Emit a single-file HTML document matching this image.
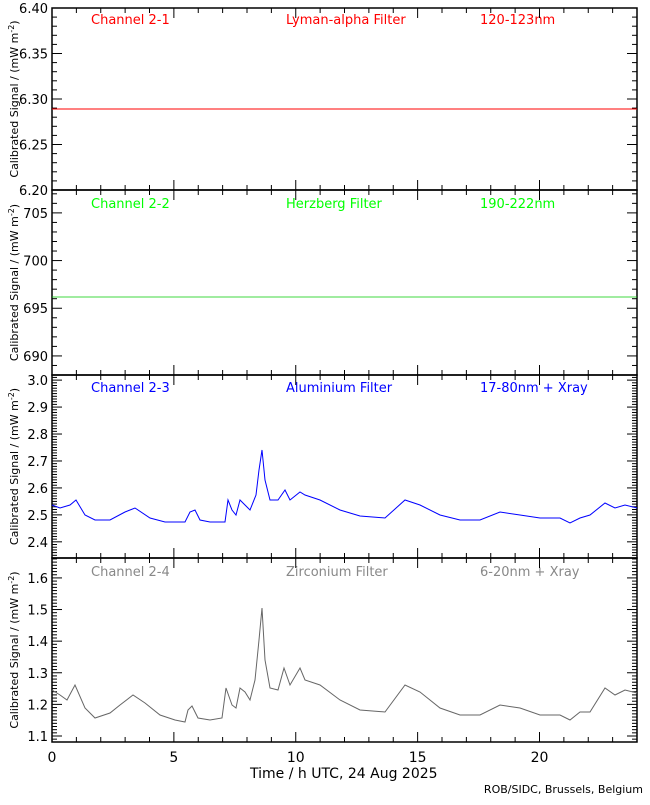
<!DOCTYPE html>
<html><head><meta charset="utf-8"><style>
body{margin:0;background:#fff}
svg text{font-family:"DejaVu Sans","Liberation Sans",sans-serif;font-size:13px}
</style></head><body>
<svg id="s" width="650" height="800" xmlns="http://www.w3.org/2000/svg">
<text x="91" y="24" fill="#f00">Channel 2-1</text><text x="286" y="24" fill="#f00">Lyman-alpha Filter</text><text x="480" y="24" fill="#f00">120-123nm</text>
<text x="91" y="208" fill="#0f0">Channel 2-2</text><text x="286" y="208" fill="#0f0">Herzberg Filter</text><text x="480" y="208" fill="#0f0">190-222nm</text>
<text x="91" y="392" fill="#00f">Channel 2-3</text><text x="286" y="392" fill="#00f">Aluminium Filter</text><text x="480" y="392" fill="#00f">17-80nm + Xray</text>
<text x="91" y="576" fill="#888">Channel 2-4</text><text x="286" y="576" fill="#888">Zirconium Filter</text><text x="480" y="576" fill="#888">6-20nm + Xray</text>
<text x="250" y="778" style="font-size:14px">Time / h UTC, 24 Aug 2025</text>
<text x="643" y="793" text-anchor="end" style="font-size:11px">ROB/SIDC, Brussels, Belgium</text>
</svg>
<script>
var s=document.getElementById('s'),NS='http://www.w3.org/2000/svg';
function el(t,a,txt){var e=document.createElementNS(NS,t);for(var k in a)e.setAttribute(k,a[k]);if(txt)e.textContent=txt;s.appendChild(e);return e;}
var L=52,R=637;
var panels=[
 {t:8,b:190,v0:6.40,v1:6.20,maj:0.05,min:0.01,dec:2,lo:6.20,hi:6.40},
 {t:190,b:375,v0:707.4,v1:688,maj:5,min:1,dec:0,lo:690,hi:705},
 {t:375,b:558,v0:3.019,v1:2.34,maj:0.1,min:0.01,dec:1,lo:2.4,hi:3.0},
 {t:558,b:742,v0:1.663,v1:1.081,maj:0.1,min:0.01,dec:1,lo:1.1,hi:1.6}
];
panels.forEach(function(p,i){
 el('rect',{x:L,y:p.t,width:R-L,height:p.b-p.t,fill:'none',stroke:'#000','stroke-width':1.5});
 var Y=function(v){return p.t+(p.v0-v)/(p.v0-p.v1)*(p.b-p.t);};
 var st=Math.ceil(p.v1/p.min-1e-6);
 for(var k=st;k*p.min<=p.v0+1e-9;k++){var v=k*p.min,y=Y(v);
  var isM=Math.abs(v/p.maj-Math.round(v/p.maj))<1e-6;var len=isM?10:5;
  el('line',{x1:L,x2:L+len,y1:y,y2:y,stroke:'#000'});el('line',{x1:R-len,x2:R,y1:y,y2:y,stroke:'#000'});
  if(isM&&v>=p.lo-1e-9&&v<=p.hi+1e-9)el('text',{x:L-4,y:y+5,'text-anchor':'end'},v.toFixed(p.dec));}
 for(var h=0;h<=24;h++){var x=L+h*(R-L)/24,len=h%5==0?10:5;
  el('line',{x1:x,x2:x,y1:p.b,y2:p.b-len,stroke:'#000'});el('line',{x1:x,x2:x,y1:p.t,y2:p.t+len,stroke:'#000'});}
 var cy=(p.t+p.b)/2;
 var tx=el('text',{x:0,y:0,transform:'translate(18,'+cy+') rotate(-90)','text-anchor':'middle',style:'font-size:11px'},'Calibrated Signal / (mW m');
 var ts=document.createElementNS(NS,'tspan');ts.setAttribute('dy','-4');ts.setAttribute('style','font-size:8px');ts.textContent='-2';tx.appendChild(ts);
 var ts2=document.createElementNS(NS,'tspan');ts2.setAttribute('dy','4');ts2.textContent=')';tx.appendChild(ts2);
});
for(var h=0;h<=20;h+=5)el('text',{x:L+h*(R-L)/24,y:762,'text-anchor':'middle',style:'font-size:14px'},''+h);
el('line',{x1:L,x2:R,y1:109,y2:109,stroke:'#f00'});
el('line',{x1:L,x2:R,y1:297,y2:297,stroke:'#0c0','stroke-width':0.8});
var c3=[[52,505],[60,508],[70,505],[76,500],[85,515],[95,520],[110,520],[125,512],[135,508],[150,518],[165,522],[185,522],[190,512],[195,510],[200,520],[210,522],[225,522],[228,500],[232,510],[236,515],[240,500],[245,505],[250,510],[256,495],[259,470],[262,450],[265,480],[270,500],[278,500],[285,490],[290,500],[300,492],[305,495],[320,500],[340,510],[360,516],[385,518],[405,500],[420,505],[440,515],[460,520],[480,520],[500,512],[520,515],[540,518],[560,518],[570,523],[580,518],[590,515],[605,503],[615,508],[625,505],[637,508]];
var c4=[[52,690],[60,695],[67,700],[75,685],[85,708],[95,718],[110,713],[120,705],[133,695],[145,703],[160,715],[175,720],[185,722],[188,710],[192,706],[198,718],[210,720],[222,718],[226,688],[232,705],[236,708],[240,688],[245,692],[250,700],[255,680],[259,640],[262,608],[265,660],[270,688],[278,690],[284,668],[290,685],[300,668],[305,680],[320,685],[340,700],[360,710],[385,712],[405,685],[420,692],[440,708],[460,715],[480,715],[500,705],[520,708],[540,715],[560,715],[570,720],[580,712],[590,712],[605,688],[615,695],[625,690],[637,693]];
el('polyline',{points:c3.join(' '),fill:'none',stroke:'#00f','stroke-width':1});
el('polyline',{points:c4.join(' '),fill:'none',stroke:'#666','stroke-width':1});
</script>
</body></html>
